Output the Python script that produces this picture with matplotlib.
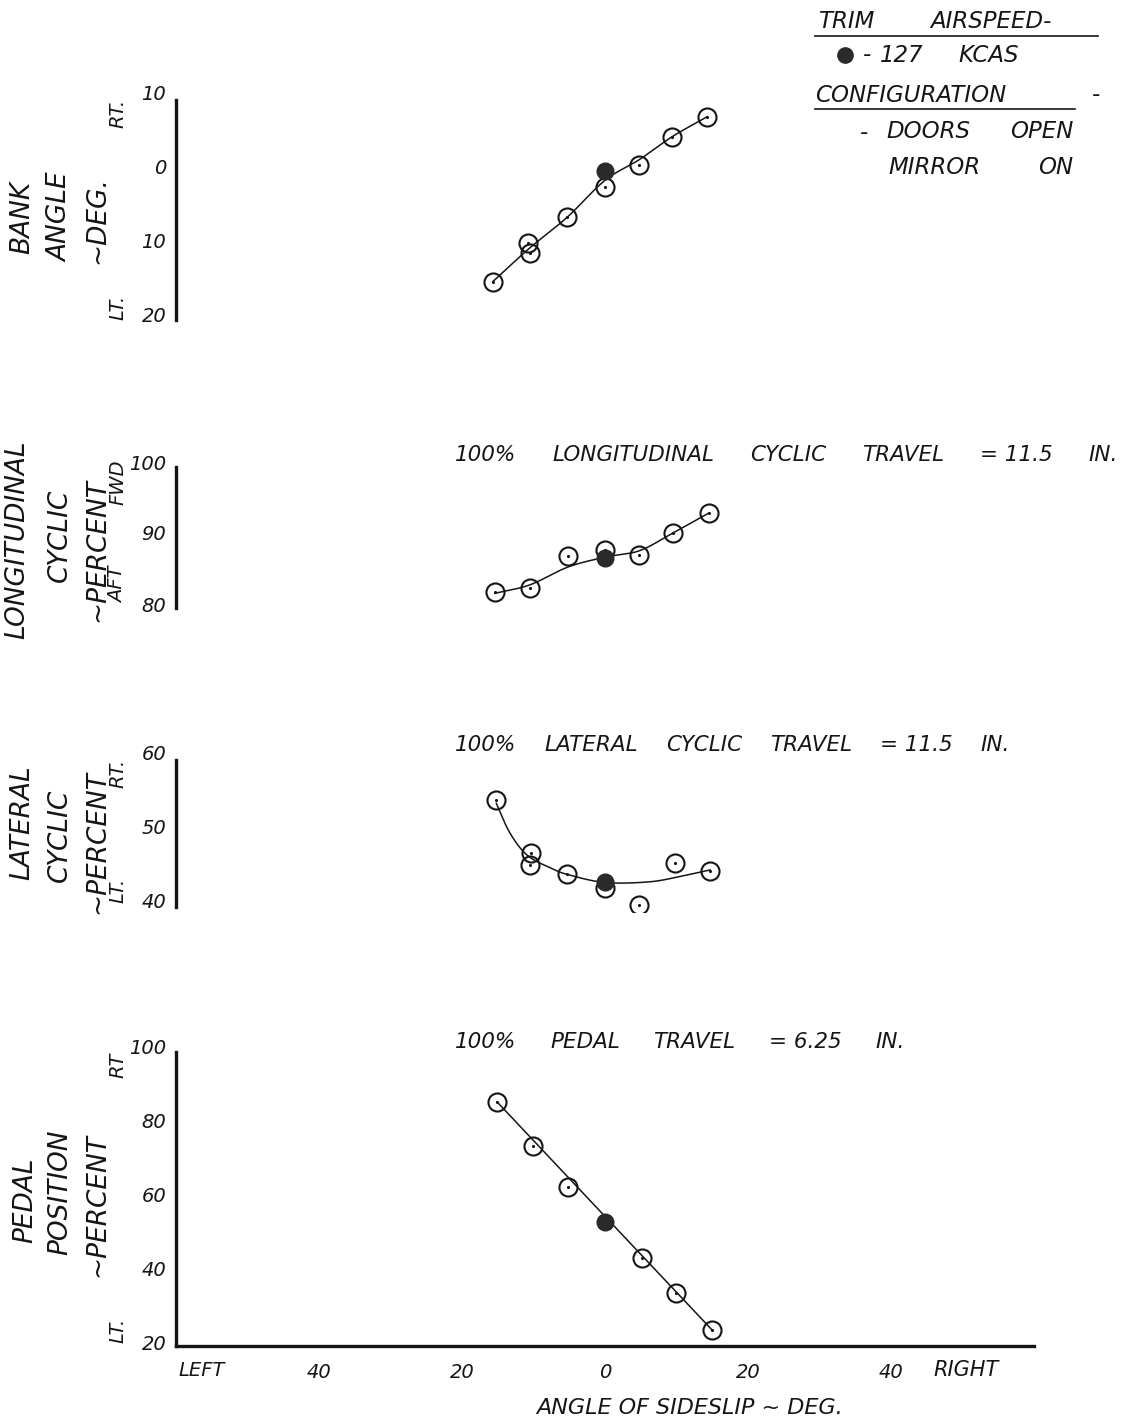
import numpy as np
import matplotlib
matplotlib.use("Agg")
import matplotlib.pyplot as plt
from matplotlib.lines import Line2D

# ---------------- data ----------------
# sideslip (deg, + = right) for every test point
bank_x = [-15.7, -10.8, -10.5, -5.3, 0.0, 4.8, 9.4, 14.3]
bank_y = [-15.5, -10.3, -11.6, -6.8, -2.7, 0.3, 4.1, 6.8]
bank_trim = [0.0, -0.5]
bank_fair_x = [-15.7, -10.6, -5.3, 0.0, 4.8, 9.4, 14.3]
bank_fair_y = [-15.5, -11.0, -6.8, -1.8, 1.0, 4.1, 6.8]

long_x = [-15.4, -10.5, -5.2, 0.0, 4.8, 9.5, 14.5]
long_y = [81.7, 82.3, 86.8, 87.6, 86.9, 90.0, 92.8]
long_trim = [0.0, 86.5]
long_fair_x = [-15.4, -10.5, -5.2, 0.0, 4.8, 9.5, 14.5]
long_fair_y = [81.5, 82.7, 85.2, 86.6, 87.5, 90.0, 92.8]

lat_x = [-15.2, -10.3, -10.5, -5.3, 0.0, 4.8, 9.8, 14.7]
lat_y = [53.6, 46.5, 44.9, 43.6, 41.8, 39.5, 45.1, 44.1]
lat_trim = [0.0, 42.6]
lat_fair_x = [-15.2, -13.3, -10.9, -7.7, -5.3, 0.0, 6.3, 10.9, 14.7]
lat_fair_y = [53.2, 49.2, 46.2, 44.5, 43.6, 42.5, 42.6, 43.4, 44.2]

ped_x = [-15.1, -10.1, -5.2, 5.2, 9.9, 15.0]
ped_y = [84.9, 73.0, 61.9, 42.7, 33.2, 23.2]
ped_trim = [0.0, 52.4]
ped_fair_x = [-15.1, 15.0]
ped_fair_y = [84.9, 23.2]

x_ticks = [-40, -20, 0, 20, 40]
x_tick_labels = ["40", "20", "0", "20", "40"]

bank_ticks = [10, 0, -10, -20]
bank_tick_labels = ["10", "0", "10", "20"]
long_ticks = [100, 90, 80]
lat_ticks = [60, 50, 40]
ped_ticks = [100, 80, 60, 40, 20]

# ---------------- styling ----------------
W, H = 1122, 1426
INK = "#151515"
FONT = dict(family="DejaVu Sans", style="oblique", color=INK)

fig = plt.figure(figsize=(W / 100, H / 100), dpi=100)
fig.patch.set_facecolor("white")
renderer = fig.canvas.get_renderer()


def px_axes(left, top, right, bottom):
    return fig.add_axes([left / W, 1 - bottom / H, (right - left) / W, (bottom - top) / H])


def ftext(x, y, s, **kw):
    opts = dict(FONT)
    opts.update(kw)
    return fig.text(x / W, 1 - y / H, s, **opts)


def fwords(y, words, size):
    """Hand-lettered line: each word starts at its own x position (pixels)."""
    for x, w in words:
        ftext(x, y, w, fontsize=size, ha="left", va="center")


def fspread(y, words, x0, x1, size):
    """Hand-lettered line: words spread evenly between x0 and x1 (pixels)."""
    texts = [ftext(x0, y, w, fontsize=size, ha="left", va="center") for w in words]
    widths = [t.get_window_extent(renderer).width for t in texts]
    gap = (x1 - x0 - sum(widths)) / max(len(words) - 1, 1)
    x = x0
    for t, w in zip(texts, widths):
        t.set_x(x / W)
        x += w + gap


def fline(x0, y0, x1, y1, lw=1.2):
    fig.add_artist(Line2D([x0 / W, x1 / W], [1 - y0 / H, 1 - y1 / H],
                          color=INK, lw=lw, transform=fig.transFigure))


def smooth(xs, ys, n=30):
    """Catmull-Rom curve through the fairing points."""
    pts = np.column_stack([xs, ys]).astype(float)
    if len(pts) < 3:
        return pts[:, 0], pts[:, 1]
    P = np.vstack([2 * pts[0] - pts[1], pts, 2 * pts[-1] - pts[-2]])
    out = []
    t = np.linspace(0, 1, n, endpoint=False)[:, None]
    for i in range(1, len(P) - 2):
        p0, p1, p2, p3 = P[i - 1], P[i], P[i + 1], P[i + 2]
        seg = 0.5 * (2 * p1 + (-p0 + p2) * t + (2 * p0 - 5 * p1 + 4 * p2 - p3) * t ** 2
                     + (-p0 + 3 * p1 - 3 * p2 + p3) * t ** 3)
        out.append(seg)
    out.append(pts[-1:])
    c = np.vstack(out)
    return c[:, 0], c[:, 1]


AX_L, AX_R = 176, 1034
XLIM = (-60, 60)


def panel(top, bottom, ref_px, ref_val, px_per_unit, spine_top, spine_bot,
          ticks, labels, xs, ys, trim, fx, fy, show_x=False):
    ax = px_axes(AX_L, top, AX_R, bottom)
    ax.set_xlim(*XLIM)
    ax.set_ylim(ref_val - (bottom - ref_px) / px_per_unit,
                ref_val + (ref_px - top) / px_per_unit)
    for s in ("top", "right"):
        ax.spines[s].set_visible(False)
    ax.spines["left"].set_linewidth(2.4)
    ax.spines["left"].set_color(INK)
    ax.spines["left"].set_bounds(ref_val - (spine_bot - ref_px) / px_per_unit,
                                 ref_val + (ref_px - spine_top) / px_per_unit)
    if show_x:
        ax.spines["bottom"].set_linewidth(2.4)
        ax.spines["bottom"].set_color(INK)
        ax.set_xticks(x_ticks)
        ax.set_xticklabels(x_tick_labels, fontsize=14, **FONT)
        ax.tick_params(axis="x", length=0, pad=12)
    else:
        ax.spines["bottom"].set_visible(False)
        ax.set_xticks([])
    ax.set_yticks(ticks)
    ax.set_yticklabels(labels, fontsize=14, **FONT)
    ax.tick_params(axis="y", length=0, pad=7)
    ax.patch.set_alpha(0)

    cx, cy = smooth(fx, fy)
    ax.plot(cx, cy, color=INK, lw=1.1, zorder=2)
    ax.plot(xs, ys, "o", ms=13, mfc="none", mec=INK, mew=1.5, zorder=3)
    ax.plot(xs, ys, ".", ms=2.5, color=INK, zorder=3)
    ax.plot([trim[0]], [trim[1]], "o", ms=12, mfc="#2a2a2a", mec="#2a2a2a", zorder=4)
    return ax


panel(85, 325, 167, 0, 7.4, 100, 320, bank_ticks, bank_tick_labels,
      bank_x, bank_y, bank_trim, bank_fair_x, bank_fair_y)
panel(450, 615, 533, 90, 7.1, 467, 608, long_ticks, [str(v) for v in long_ticks],
      long_x, long_y, long_trim, long_fair_x, long_fair_y)
panel(745, 912, 827, 50, 7.4, 760, 907, lat_ticks, [str(v) for v in lat_ticks],
      lat_x, lat_y, lat_trim, lat_fair_x, lat_fair_y)
panel(1040, 1346, 1342, 20, 3.7, 1052, 1346, ped_ticks, [str(v) for v in ped_ticks],
      ped_x, ped_y, ped_trim, ped_fair_x, ped_fair_y, show_x=True)

# ---------------- axis titles (vertical lettering) ----------------
V = dict(rotation=90, ha="center", va="center")
big, small = 19, 14
ftext(22, 217, "BANK", fontsize=big, **V)
ftext(60, 217, "ANGLE", fontsize=big, **V)
ftext(97, 220, "~DEG.", fontsize=big, **V)
ftext(118, 113, "RT.", fontsize=small, **V)
ftext(118, 307, "LT.", fontsize=small, **V)

ftext(17, 540, "LONGITUDINAL", fontsize=big, **V)
ftext(60, 535, "CYCLIC", fontsize=big, **V)
ftext(97, 550, "~PERCENT", fontsize=big, **V)
ftext(118, 482, "FWD", fontsize=small, **V)
ftext(118, 585, "AFT", fontsize=small, **V)

ftext(22, 823, "LATERAL", fontsize=big, **V)
ftext(60, 835, "CYCLIC", fontsize=big, **V)
ftext(97, 842, "~PERCENT", fontsize=big, **V)
ftext(118, 773, "RT.", fontsize=small, **V)
ftext(118, 890, "LT.", fontsize=small, **V)

ftext(25, 1200, "PEDAL", fontsize=big, **V)
ftext(60, 1192, "POSITION", fontsize=big, **V)
ftext(97, 1205, "~PERCENT", fontsize=big, **V)
ftext(118, 1065, "RT", fontsize=small, **V)
ftext(118, 1330, "LT.", fontsize=small, **V)

# ---------------- x axis end words and title ----------------
ftext(202, 1370, "LEFT", fontsize=14, ha="center", va="center")
ftext(966, 1370, "RIGHT", fontsize=15, ha="center", va="center")
ftext(690, 1408, "ANGLE OF SIDESLIP ~ DEG.", fontsize=16, ha="center", va="center")

# ---------------- control travel notes ----------------
fspread(455, ["100%", "LONGITUDINAL", "CYCLIC", "TRAVEL", "= 11.5", "IN."], 455, 1118, 15.5)
fspread(745, ["100%", "LATERAL", "CYCLIC", "TRAVEL", "= 11.5", "IN."], 455, 1010, 15.5)
fspread(1042, ["100%", "PEDAL", "TRAVEL", "= 6.25", "IN."], 455, 905, 15.5)

# ---------------- key ----------------
fwords(22, [(818, "TRIM"), (930, "AIRSPEED-")], 16.5)
fline(815, 36, 1098, 36)
fig.add_artist(Line2D([845 / W], [1 - 55 / H], marker="o", ms=11, mfc="#2a2a2a",
                      mec="#2a2a2a", transform=fig.transFigure))
fwords(55, [(863, "-"), (880, "127"), (958, "KCAS")], 16.5)
fwords(95, [(815, "CONFIGURATION"), (1092, "-")], 16.5)
fline(815, 109, 1075, 109)
fwords(132, [(860, "-"), (886, "DOORS"), (1010, "OPEN")], 16.5)
fwords(167, [(888, "MIRROR"), (1038, "ON")], 16.5)

fig.savefig("out.png", dpi=100, facecolor="white")
